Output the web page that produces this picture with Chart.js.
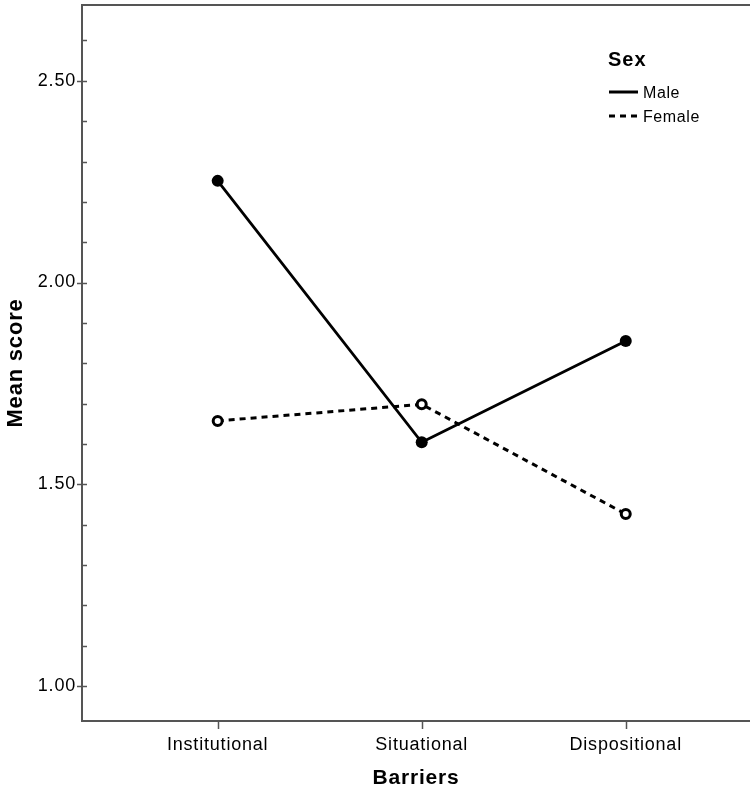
<!DOCTYPE html>
<html><head><meta charset="utf-8">
<script src="https://cdn.jsdelivr.net/npm/chart.js@4"></script>
<style>html,body{margin:0;padding:0;background:#fff;overflow:hidden}#wrap{width:750px;height:789px;position:relative}</style>
</head><body><div id="wrap"><canvas id="c"></canvas></div>
<script>
const categories = ['Institutional', 'Situational', 'Dispositional'];
const maleValues = [2.252, 1.604, 1.855];
const femaleValues = [1.657, 1.698, 1.426];
const seriesNames = ['Male', 'Female'];
const legendTitle = 'Sex';
const xTitle = 'Barriers';
const yTitle = 'Mean score';
const yTickLabels = ['1.00', '1.50', '2.00', '2.50'];
const yMinorTicks = [1.0, 1.1, 1.2, 1.3, 1.4, 1.5, 1.6, 1.7, 1.8, 1.9, 2.0, 2.1, 2.2, 2.3, 2.4, 2.5, 2.6];

const FONT = '"Liberation Sans", Arial, sans-serif';
const AXIS = '#555';

const spacingPlugin = {
  id: 'spacing',
  beforeDraw(chart) { chart.ctx.letterSpacing = '0.8px'; }
};

const zeroPad = s => { s.paddingTop = 0; s.paddingBottom = 0; s.paddingLeft = 0; s.paddingRight = 0; };

const decorPlugin = {
  id: 'decor',
  afterDraw(chart) {
    const ctx = chart.ctx, a = chart.chartArea;
    const xs = chart.scales.x, ys = chart.scales.y;
    ctx.save();
    ctx.strokeStyle = AXIS;
    ctx.lineWidth = 2;
    // top frame
    ctx.beginPath(); ctx.moveTo(a.left - 1, a.top); ctx.lineTo(a.right, a.top); ctx.stroke();
    // y ticks
    ctx.lineWidth = 1.5;
    ys.ticks.forEach(t => {
      const y = Math.round(ys.getPixelForValue(t.value)) + 0.5;
      const major = yTickLabels.includes(t.value.toFixed(2));
      ctx.beginPath();
      ctx.moveTo(a.left - (major ? 5 : 0), y);
      ctx.lineTo(a.left + 5, y);
      ctx.stroke();
    });
    // x ticks
    xs.ticks.forEach(t => {
      const x = Math.round(xs.getPixelForValue(t.value)) + 0.5;
      ctx.beginPath(); ctx.moveTo(x, a.bottom); ctx.lineTo(x, a.bottom + 8); ctx.stroke();
    });
    // legend
    const lx = a.left + 526;
    ctx.fillStyle = '#000';
    ctx.textBaseline = 'middle';
    ctx.textAlign = 'left';
    ctx.letterSpacing = '1px';
    ctx.font = 'bold 20px ' + FONT;
    ctx.fillText(legendTitle, lx, a.top + 55);
    ctx.letterSpacing = '0.6px';
    ctx.font = '16px ' + FONT;
    chart.data.datasets.forEach((ds, i) => {
      const y = a.top + 87 + i * 24;
      ctx.strokeStyle = '#000';
      ctx.lineWidth = 3;
      ctx.setLineDash(ds.borderDash || []);
      ctx.beginPath(); ctx.moveTo(lx + 1, y); ctx.lineTo(lx + 30, y); ctx.stroke();
      ctx.setLineDash([]);
      ctx.fillText(ds.label, lx + 35, y + 2);
    });
    ctx.restore();
  }
};

new Chart(document.getElementById('c'), {
  type: 'line',
  data: {
    datasets: [
      {
        label: seriesNames[0],
        data: categories.map((c, i) => ({ x: i, y: maleValues[i] })),
        borderColor: '#000', borderWidth: 2.8,
        pointRadius: 6, pointBackgroundColor: '#000', pointBorderWidth: 0,
        pointBorderColor: '#000', tension: 0
      },
      {
        label: seriesNames[1],
        data: categories.map((c, i) => ({ x: i, y: femaleValues[i] })),
        borderColor: '#000', borderWidth: 3, borderDash: [6, 5],
        pointRadius: 4.5, pointBackgroundColor: '#fff', pointBorderWidth: 3,
        pointBorderColor: '#000', tension: 0
      }
    ]
  },
  options: {
    responsive: true, maintainAspectRatio: false, animation: false, devicePixelRatio: 1,
    layout: { autoPadding: false, padding: { top: 5, left: 0, right: 0, bottom: 0 } },
    plugins: { legend: { display: false }, tooltip: { enabled: false } },
    scales: {
      x: {
        type: 'linear', min: -0.665, max: 2.609,
        afterBuildTicks: s => { s.ticks = categories.map((c, i) => ({ value: i })); },
        afterFit: s => { s.height = 68; zeroPad(s); },
        grid: { display: false, drawTicks: false, tickLength: 0 },
        border: { display: true, color: AXIS, width: 2 },
        ticks: {
          autoSkip: false, maxRotation: 0, padding: 13, color: '#000',
          font: { family: FONT, size: 18 },
          callback: v => categories[v] ?? ''
        },
        title: {
          display: true, text: xTitle, color: '#000',
          font: { family: FONT, size: 21, weight: 'bold', lineHeight: 1 },
          padding: { top: 0, bottom: 0 }
        }
      },
      y: {
        type: 'linear', min: 0.913, max: 2.688,
        afterBuildTicks: s => { s.ticks = yMinorTicks.map(v => ({ value: v })); },
        afterFit: s => { s.width = 82; zeroPad(s); },
        grid: { display: false, drawTicks: false, tickLength: 0 },
        border: { display: true, color: AXIS, width: 2 },
        ticks: {
          autoSkip: false, padding: 6, color: '#000',
          font: { family: FONT, size: 18 },
          callback: v => { const s = Number(v).toFixed(2); return yTickLabels.includes(s) ? s : ''; }
        },
        title: {
          display: true, text: yTitle, color: '#000',
          font: { family: FONT, size: 22, weight: 'bold', lineHeight: 1 },
          padding: { top: 5, bottom: 0 }
        }
      }
    }
  },
  plugins: [spacingPlugin, decorPlugin]
});
</script>
</body></html>
